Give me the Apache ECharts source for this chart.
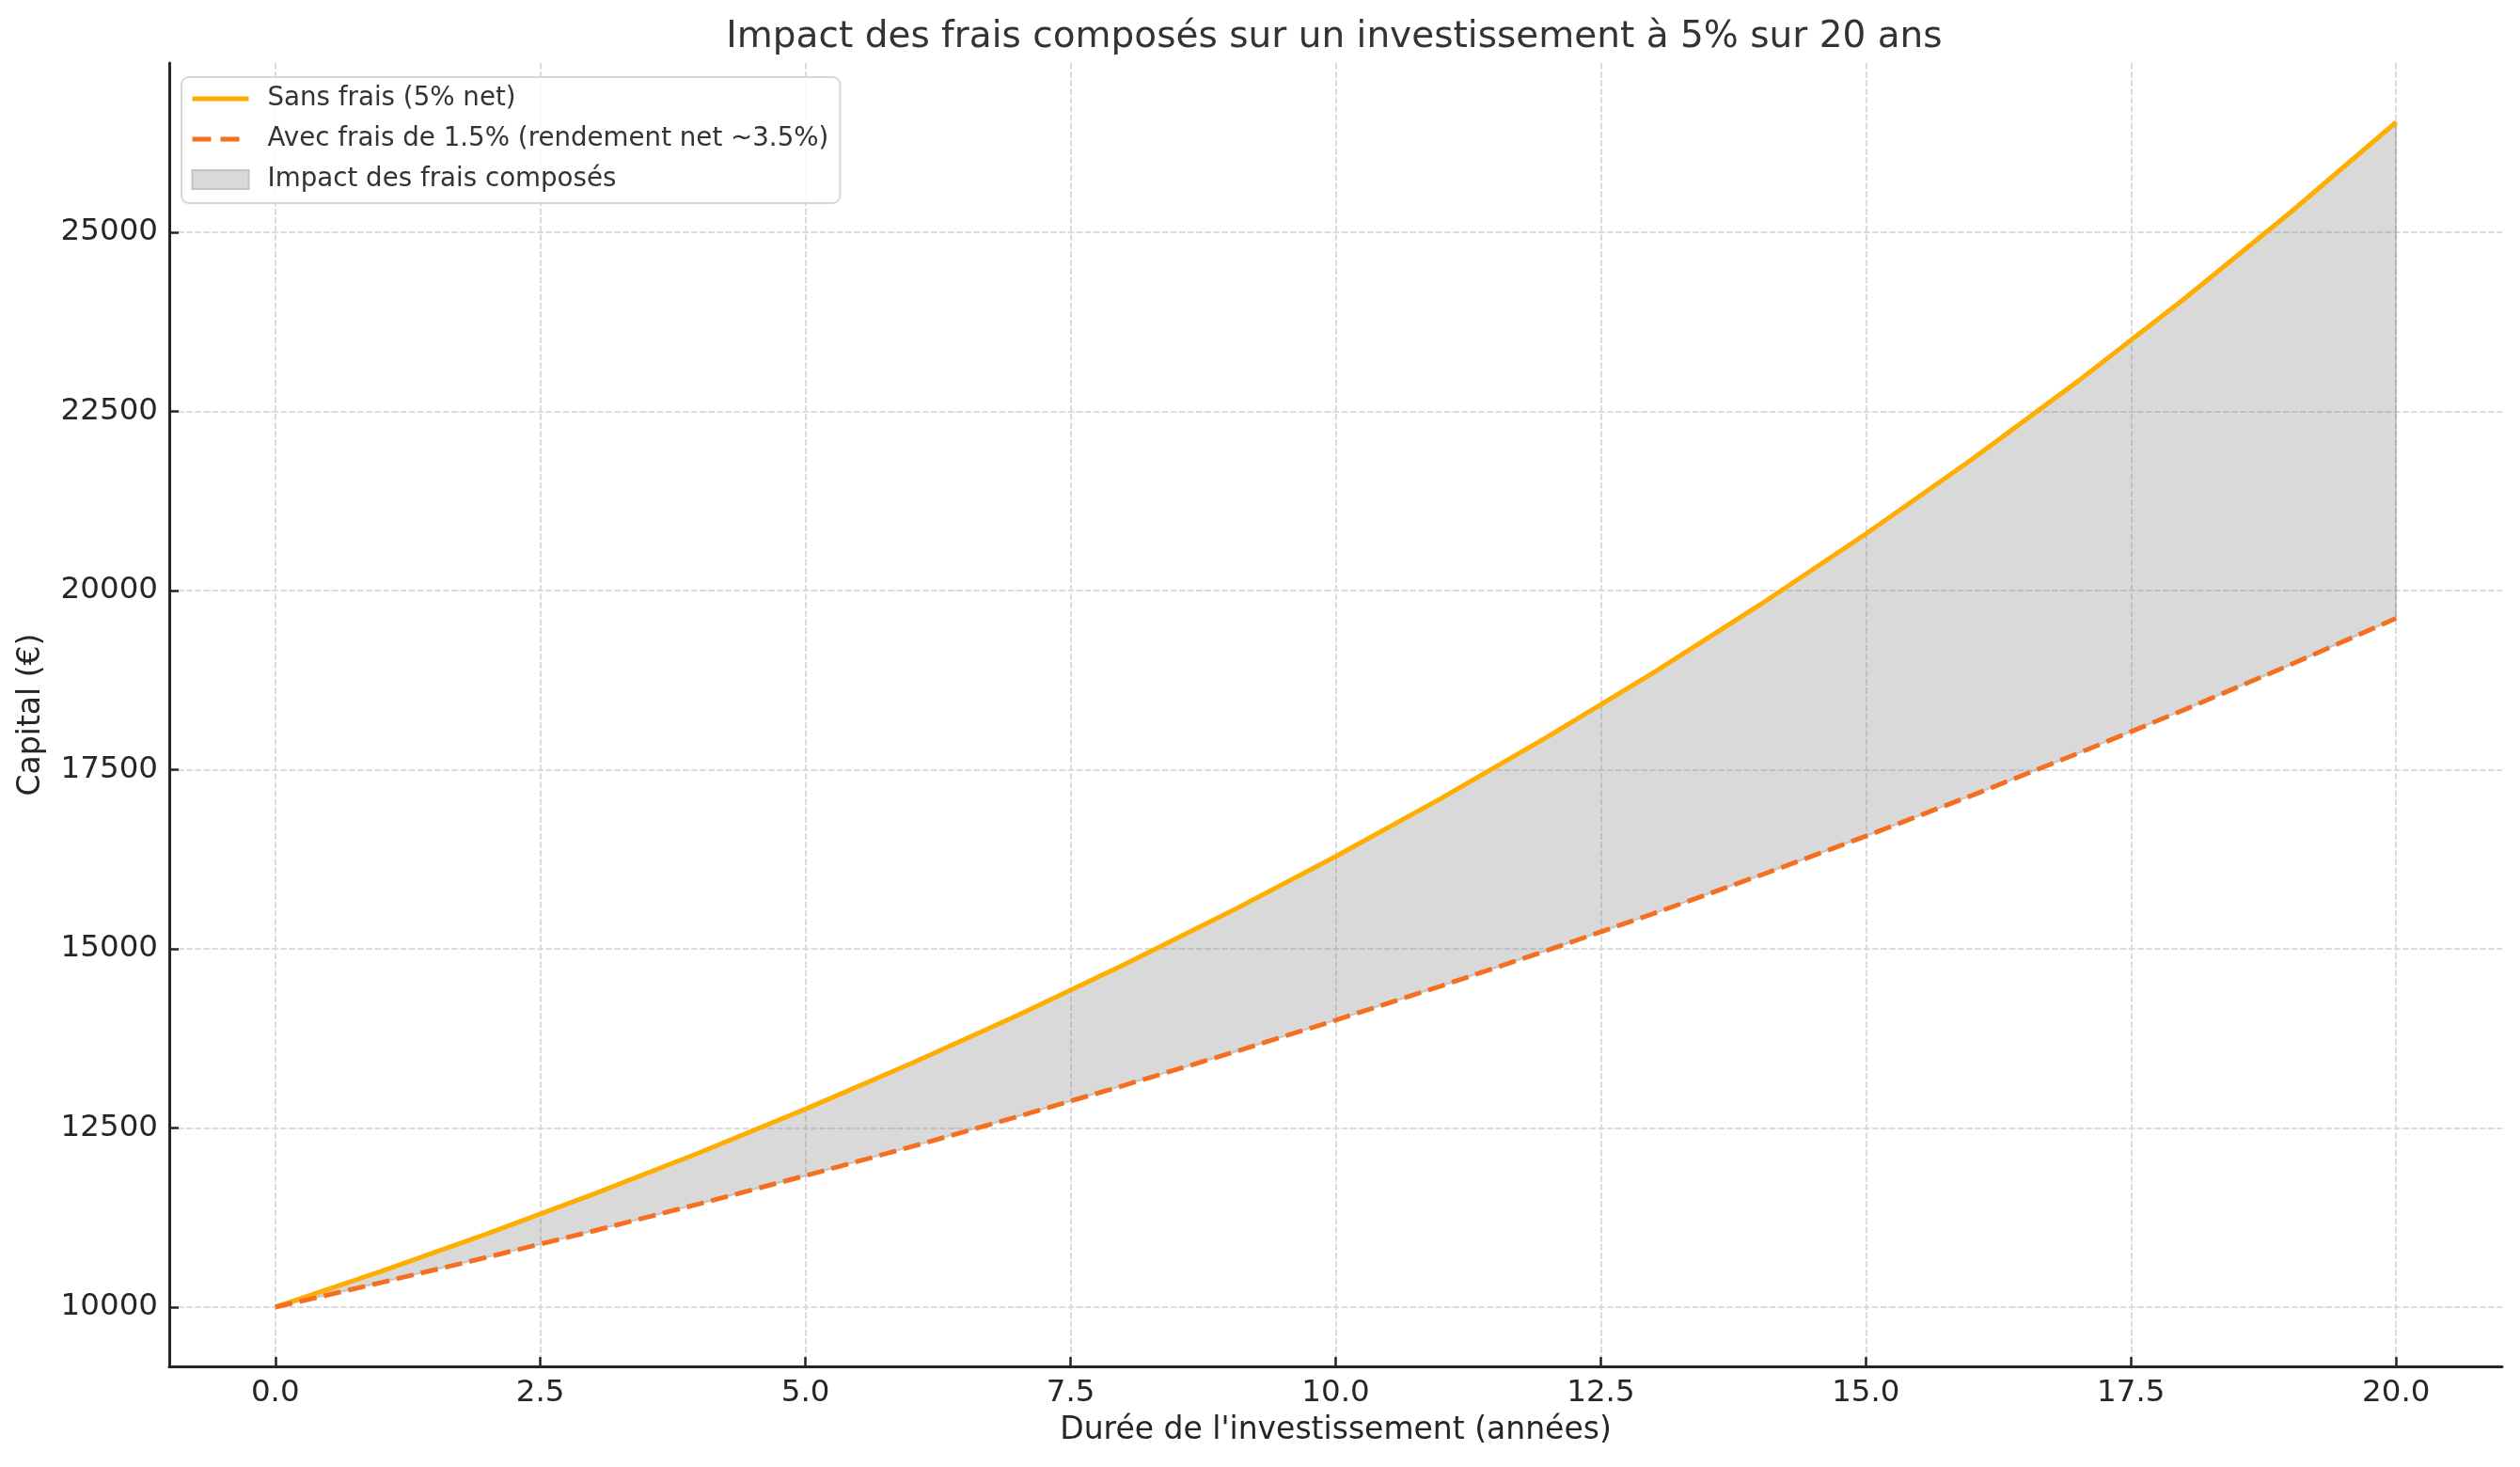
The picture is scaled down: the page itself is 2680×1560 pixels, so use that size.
<!DOCTYPE html>
<html>
<head>
<meta charset="utf-8">
<script src="https://cdn.jsdelivr.net/npm/echarts@6/dist/echarts.min.js"></script>
<style>
html,body{margin:0;padding:0;background:#fff;}
#chart{width:2680px;height:1560px;}
</style>
</head>
<body>
<div id="chart"></div>
<script>
// Data
const years = [0,1,2,3,4,5,6,7,8,9,10,11,12,13,14,15,16,17,18,19,20];
const sansFrais = [10000,10500,11025,11576,12155,12763,13401,14071,14775,15513,16289,17103,17959,18856,19799,20789,21829,22920,24066,25270,26533];
const avecFrais = [10000,10343,10697,11063,11442,11834,12239,12658,13092,13540,14004,14484,14980,15493,16023,16572,17140,17727,18334,18962,19611];
const xTicks = [0,2.5,5,7.5,10,12.5,15,17.5,20];
const yTicks = [10000,12500,15000,17500,20000,22500,25000];
const names = ['Sans frais (5% net)','Avec frais de 1.5% (rendement net ~3.5%)','Impact des frais composés'];
const titleText = 'Impact des frais composés sur un investissement à 5% sur 20 ans';
const xName = "Durée de l'investissement (années)";
const yName = 'Capital (€)';

const FONT = "'DejaVu Sans', sans-serif";
const TXT = '#262626';
const C_UP = '#FFAD00';
const C_LOW = '#F47020';
const chart = echarts.init(document.getElementById('chart'), null, {renderer:'canvas'});

const upperData = years.map((x,i)=>[x, sansFrais[i]]);
const lowerData = years.map((x,i)=>[x, avecFrais[i]]);
const bandData = years.map((x,i)=>[x, sansFrais[i], avecFrais[i]]);

const splitLineStyle = {show:true, lineStyle:{color:'#dcdcdc', width:2, type:[6.7,2.4]}};

chart.setOption({
  animation:false,
  backgroundColor:'#ffffff',
  textStyle:{fontFamily:FONT},
  title:{
    text:titleText, left:1414, top:15, textAlign:'center',
    textStyle:{fontFamily:FONT, fontSize:39, fontWeight:'normal', color:'#333333'}
  },
  grid:{left:180, right:19, top:67, bottom:107, containLabel:false},
  legend:{
    orient:'vertical', left:193, top:82,
    padding:[8,12,10,9], itemGap:13, itemWidth:60, itemHeight:20,
    backgroundColor:'rgba(255,255,255,0.85)', borderColor:'#d6d6d6', borderWidth:2, borderRadius:8,
    textStyle:{fontFamily:FONT, fontSize:27.7, color:'#333333', lineHeight:30, padding:[0,0,0,15]},
    data:[
      {name:names[0], itemStyle:{opacity:0}, lineStyle:{color:C_UP, width:5, type:'solid'}},
      {name:names[1], itemStyle:{opacity:0}, lineStyle:{color:C_LOW, width:5, type:[20,10]}},
      {name:names[2], icon:'rect', itemStyle:{color:'#d9d9d9', borderColor:'#c4c4c4', borderWidth:2}}
    ]
  },
  xAxis:{
    type:'value', min:-1, max:21,
    name:xName, nameLocation:'middle', nameGap:52,
    nameTextStyle:{fontFamily:FONT, fontSize:33, color:TXT},
    axisLine:{show:true, onZero:false, lineStyle:{color:'#262626', width:3}},
    axisTick:{show:true, inside:true, length:10, lineStyle:{color:'#262626', width:2.5}, customValues:xTicks},
    axisLabel:{fontFamily:FONT, fontSize:32.5, color:TXT, margin:12, customValues:xTicks, formatter:v=>Number(v).toFixed(1)},
    splitLine:splitLineStyle
  },
  yAxis:{
    type:'value', min:9173, max:27360,
    name:yName, nameLocation:'middle', nameGap:130, nameRotate:90,
    nameTextStyle:{fontFamily:FONT, fontSize:33, color:TXT},
    axisLine:{show:true, onZero:false, lineStyle:{color:'#262626', width:3}},
    axisTick:{show:true, inside:true, length:10, lineStyle:{color:'#262626', width:2.5}, customValues:yTicks},
    axisLabel:{fontFamily:FONT, fontSize:32.5, color:TXT, margin:12, customValues:yTicks, formatter:v=>String(v)},
    splitLine:splitLineStyle
  },
  series:[
    {
      name:names[2], type:'custom', z:1,
      itemStyle:{color:'#d9d9d9'},
      data:bandData,
      encode:{x:0, y:[1,2]},
      renderItem:function(params, api){
        if (params.dataIndex !== 0) return null;
        const pts = [];
        for (let i=0;i<bandData.length;i++) pts.push(api.coord([bandData[i][0], bandData[i][1]]));
        for (let i=bandData.length-1;i>=0;i--) pts.push(api.coord([bandData[i][0], bandData[i][2]]));
        return {
          type:'polygon',
          shape:{points:pts},
          style:{fill:'rgba(128,128,128,0.3)', stroke:'rgba(128,128,128,0.32)', lineWidth:2}
        };
      }
    },
    {
      name:names[0], type:'line', z:3, data:upperData,
      symbol:'none', showSymbol:false, smooth:false,
      itemStyle:{color:C_UP},
      lineStyle:{color:C_UP, width:5}
    },
    {
      name:names[1], type:'line', z:4, data:lowerData,
      symbol:'none', showSymbol:false, smooth:false,
      itemStyle:{color:C_LOW},
      lineStyle:{color:C_LOW, width:5, type:[18.5,8]}
    }
  ]
});
</script>
</body>
</html>
